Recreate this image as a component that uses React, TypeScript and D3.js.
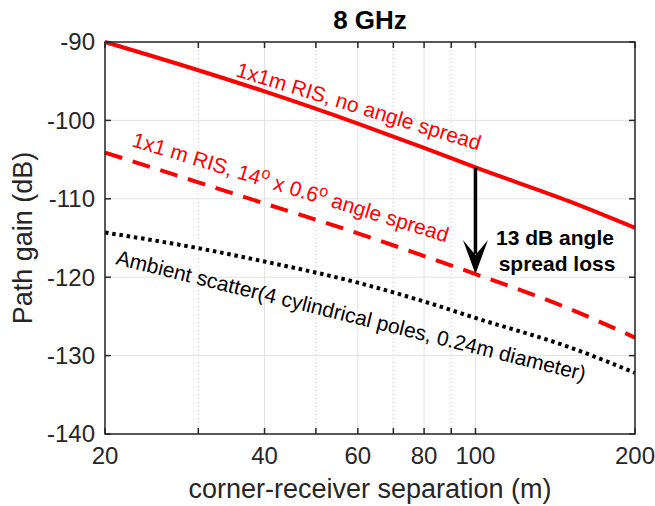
import React from 'react'
import * as d3 from 'd3'

// corner-receiver separation (m)
const dist = [20, 30, 40, 60, 80, 100, 150, 200]
// path gain (dB)
const risNoSpread = [-90, -93.6, -96.3, -100.4, -103.5, -106.0, -110.3, -113.7]
const risSpread = [-104.1, -107.9, -110.6, -114.4, -117.3, -119.6, -124.0, -127.7]
const ambient = [-114.3, -116.3, -118.0, -120.7, -123.1, -125.2, -128.9, -132.2]

const xTicks = [20, 40, 60, 80, 100, 200]
const xMinor = [30, 50, 70, 90]
const yTicks = [-140, -130, -120, -110, -100, -90]

const W = 655
const H = 506
const margin = { top: 42, right: 20, bottom: 72, left: 105 }
const FONT = '"Liberation Sans", Arial, Helvetica, sans-serif'

export default function App() {
  const iw = W - margin.left - margin.right
  const ih = H - margin.top - margin.bottom

  const x = d3.scaleLog().domain([20, 200]).range([0, iw])
  const y = d3.scaleLinear().domain([-140, -90]).range([ih, 0])

  const line = d3.line<number>().x((_, i) => x(dist[i])).y(d => y(d)).curve(d3.curveMonotoneX)

  const axisCol = '#262626'
  const gridCol = '#e3e3e3'

  const ax = x(100)
  const tipY = y(risSpread[5])

  return (
    <svg width={W} height={H} style={{ position: 'absolute', left: 0, top: 0, background: '#fff' }} fontFamily={FONT}>
      <text x={margin.left + iw / 2} y={29} textAnchor="middle" fontSize={26} fontWeight="bold" fill="#000">8 GHz</text>
      <g transform={`translate(${margin.left},${margin.top})`}>
        {/* grid */}
        {yTicks.map(t => (
          <line key={'gy' + t} x1={0} x2={iw} y1={y(t)} y2={y(t)} stroke={gridCol} strokeWidth={1} />
        ))}
        {xTicks.map(t => (
          <line key={'gx' + t} x1={x(t)} x2={x(t)} y1={0} y2={ih} stroke={gridCol} strokeWidth={1} />
        ))}
        {xMinor.map(t => (
          <line key={'gm' + t} x1={x(t)} x2={x(t)} y1={0} y2={ih} stroke="#c8c8c8" strokeWidth={1} strokeDasharray="1,3" />
        ))}

        {/* series */}
        <path d={line(risNoSpread) || ''} fill="none" stroke="#ff0000" strokeWidth={4} />
        <path d={line(risSpread) || ''} fill="none" stroke="#ff0000" strokeWidth={4} strokeDasharray="18,11" />
        <path d={line(ambient) || ''} fill="none" stroke="#000" strokeWidth={4} strokeDasharray="3.5,3.8" />

        {/* arrow */}
        <line x1={ax} x2={ax} y1={y(risNoSpread[5])} y2={tipY - 20} stroke="#000" strokeWidth={3.5} />
        <path
          d={`M${ax},${tipY} L${ax - 12.5},${tipY - 34} L${ax},${tipY - 19} L${ax + 12.5},${tipY - 34} Z`}
          fill="#000"
        />
        <text x={450} y={203} textAnchor="middle" fontSize={21} fontWeight="bold" fill="#000">13 dB angle</text>
        <text x={452} y={229} textAnchor="middle" fontSize={21} fontWeight="bold" fill="#000">spread loss</text>

        {/* series labels */}
        <text transform={`translate(${130},${34}) rotate(17)`} fontSize={21} fill="#ff0000">
          1x1m RIS, no angle spread
        </text>
        <text transform={`translate(${26},${104}) rotate(17)`} fontSize={21} fill="#ff0000">
          1x1 m RIS, 14<tspan dy={-8} fontSize={16}>o</tspan><tspan dy={8}> x 0.6</tspan><tspan dy={-8} fontSize={16}>o</tspan><tspan dy={8}> angle spread</tspan>
        </text>
        <text transform={`translate(${10},${222}) rotate(14)`} fontSize={21} fill="#000">
          Ambient scatter(4 cylindrical poles, 0.24m diameter)
        </text>

        {/* box */}
        <rect x={0} y={0} width={iw} height={ih} fill="none" stroke={axisCol} strokeWidth={1.5} />

        {/* ticks */}
        {yTicks.map(t => (
          <g key={'ty' + t}>
            <line x1={0} x2={6} y1={y(t)} y2={y(t)} stroke={axisCol} strokeWidth={1.5} />
            <line x1={iw} x2={iw - 6} y1={y(t)} y2={y(t)} stroke={axisCol} strokeWidth={1.5} />
            <text x={-10} y={y(t)} dy="0.35em" textAnchor="end" fontSize={24} fill={axisCol}>{t}</text>
          </g>
        ))}
        {[...xTicks, ...xMinor].map(t => (
          <g key={'tx' + t}>
            <line x1={x(t)} x2={x(t)} y1={ih} y2={ih - 6} stroke={axisCol} strokeWidth={1.5} />
            <line x1={x(t)} x2={x(t)} y1={0} y2={6} stroke={axisCol} strokeWidth={1.5} />
          </g>
        ))}
        {xTicks.map(t => (
          <text key={'lx' + t} x={x(t)} y={ih + 30} textAnchor="middle" fontSize={24} fill={axisCol}>{t}</text>
        ))}

        <text x={iw / 2} y={ih + 64} textAnchor="middle" fontSize={27} fill={axisCol}>corner-receiver separation (m)</text>
        <text transform={`translate(${-73},${ih / 2}) rotate(-90)`} textAnchor="middle" fontSize={27} fill={axisCol}>Path gain (dB)</text>
      </g>
    </svg>
  )
}
